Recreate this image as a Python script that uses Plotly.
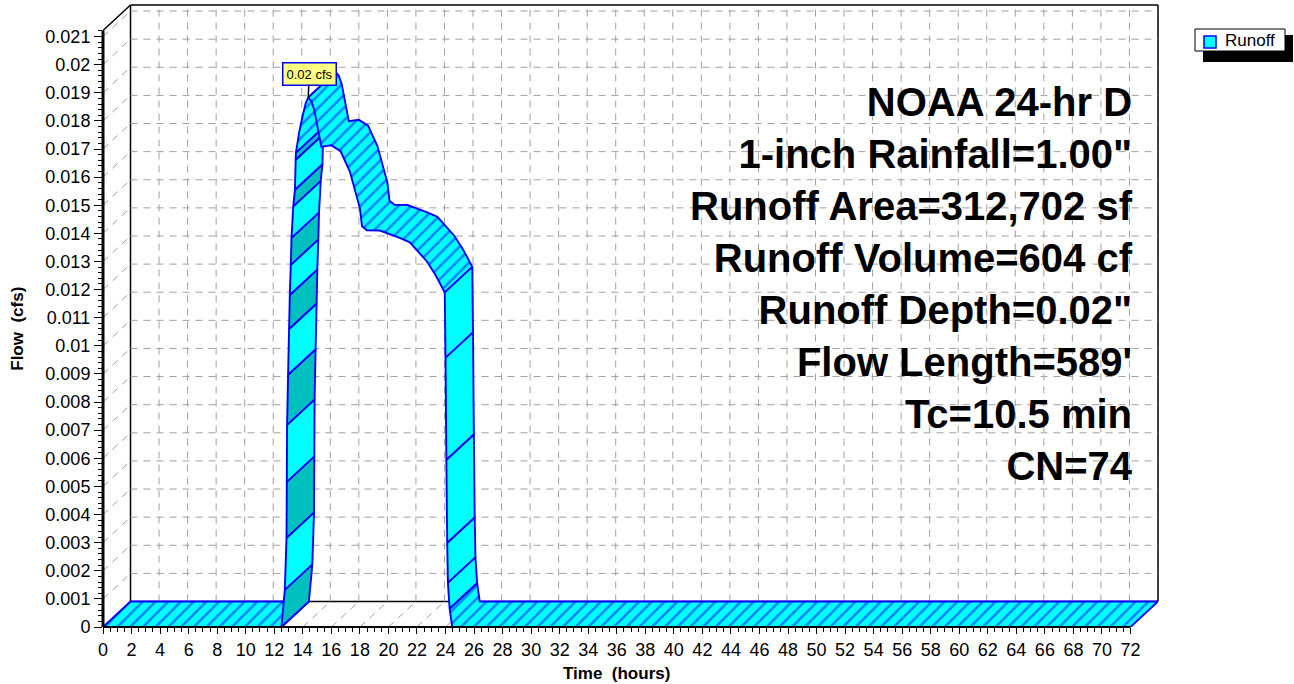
import plotly.graph_objects as go

# ---------------- data ----------------
time_hr = [0.0, 12.50, 12.74, 12.86, 12.88, 12.90, 12.97, 13.04, 13.09, 13.16, 13.21, 13.33, 13.45, 13.50, 13.52,
           13.75, 14.00, 14.20, 14.38, 14.60, 14.80, 15.05, 15.30, 16.00, 16.65, 17.30, 18.00, 18.15, 18.50, 19.40,
           20.75, 21.50, 22.20, 22.70, 23.30, 23.70, 23.95, 24.00, 24.06, 24.12, 24.17, 24.29, 24.47, 72.0]
flow_cfs = [0, 0, 0.00132, 0.00317, 0.00516, 0.00719, 0.00897, 0.01060, 0.01181, 0.01288, 0.01384, 0.01496, 0.01555, 0.01662, 0.01687,
            0.01760, 0.01820, 0.01862, 0.01883, 0.01870, 0.01840, 0.01770, 0.01708, 0.01713, 0.01692, 0.01620, 0.01490, 0.01425, 0.01411, 0.01410,
            0.01385, 0.01368, 0.01330, 0.01300, 0.01252, 0.01215, 0.01190, 0.00957, 0.00594, 0.00299, 0.00157, 0.00065, 0, 0]
series_name = "Runoff"
x_ticks = list(range(0, 73, 2))
y_ticks = [k / 1000 for k in range(0, 22)]
info_lines = ["NOAA 24-hr D", "1-inch Rainfall=1.00\"", "Runoff Area=312,702 sf", "Runoff Volume=604 cf",
              "Runoff Depth=0.02\"", "Flow Length=589'", "Tc=10.5 min", "CN=74"]
x_title = "Time\u00a0\u00a0(hours)"
y_title = "Flow\u00a0\u00a0(cfs)"

# ---------------- layout geometry ----------------
FIG_W, FIG_H = 1294, 684
M_L, M_T, M_B = 103, 5, 57
PLOT_W = 1055
PLOT_H = FIG_H - M_T - M_B
M_R = FIG_W - M_L - PLOT_W
T_MAX = 72.0
DEPTH_PX, DEPTH_PY = 27.5, 25.5          # pseudo-3D depth offset in pixels
PX_T = (PLOT_W - DEPTH_PX) / T_MAX
DT = DEPTH_PX / PX_T
F_TOP = 0.021215                          # top of the front flow axis
PX_Q = (PLOT_H - DEPTH_PY) / F_TOP
DQ = DEPTH_PY / PX_Q
X_RANGE = [0, T_MAX + DT]
Y_RANGE = [0, F_TOP + DQ]

CYAN = "#00FFFF"
TEAL = "#00BFBF"
BLUE = "#0000FF"
GRID = "#A0A0A0"
FONT = "Liberation Sans, Arial, sans-serif"


def xp(t):
    return (t - X_RANGE[0]) / (X_RANGE[1] - X_RANGE[0])


def yp(q):
    return (q - Y_RANGE[0]) / (Y_RANGE[1] - Y_RANGE[0])


fig = go.Figure()

# ---------------- dashed grid on the walls and floor ----------------
gx, gy = [], []
for t in x_ticks[1:-1]:                       # back wall verticals
    gx += [t + DT, t + DT, None]
    gy += [DQ, Y_RANGE[1], None]
for q in y_ticks[1:]:                         # back wall horizontals
    gx += [DT, T_MAX + DT, None]
    gy += [q + DQ, q + DQ, None]
for q in y_ticks[1:]:                         # left wall diagonals
    gx += [0, DT, None]
    gy += [q, q + DQ, None]
for t in x_ticks[1:-1]:                       # floor diagonals
    gx += [t, t + DT, None]
    gy += [0, DQ, None]
fig.add_trace(go.Scatter(x=gx, y=gy, mode="lines", line=dict(color=GRID, width=1, dash="7px,6px"),
                         hoverinfo="skip", showlegend=False))

# ---------------- 3D ribbon built from the hydrograph ----------------
segs = []
for i in range(len(time_hr) - 1):
    dxp = (time_hr[i + 1] - time_hr[i]) * PX_T
    dyp = (flow_cfs[i + 1] - flow_cfs[i]) * PX_Q
    steep = abs(dyp) > 9 * abs(dxp)
    top = dxp * DEPTH_PY - dyp * DEPTH_PX >= 0
    segs.append(("solid" if steep else "hatch", top))

groups = []
for i, (style, top) in enumerate(segs):
    if style == "hatch" and groups and groups[-1][0] == "hatch" and groups[-1][1] == top:
        groups[-1][3] = i
    else:
        groups.append([style, top, i, i])

under_count = 0
for style, top, i0, i1 in groups:
    ft = time_hr[i0:i1 + 2]
    fq = flow_cfs[i0:i1 + 2]
    px_ = ft + [t + DT for t in ft[::-1]] + [ft[0]]
    py_ = fq + [q + DQ for q in fq[::-1]] + [fq[0]]
    kw = dict(x=px_, y=py_, mode="lines", fill="toself", line=dict(color=BLUE, width=1.9),
              hoverinfo="skip", showlegend=False)
    if style == "hatch":
        kw["fillcolor"] = CYAN
        kw["fillpattern"] = dict(shape="/", fgcolor=BLUE, bgcolor=CYAN, size=9, solidity=0.27)
    else:
        if top:
            kw["fillcolor"] = CYAN
        else:
            kw["fillcolor"] = TEAL if under_count % 2 == 0 else CYAN
            under_count += 1
    fig.add_trace(go.Scatter(**kw))

# ---------------- frame lines ----------------
shapes = []


def seg_line(t0, q0, t1, q1, width, layer="above"):
    shapes.append(dict(type="line", xref="paper", yref="paper", x0=xp(t0), y0=yp(q0), x1=xp(t1), y1=yp(q1),
                       line=dict(color="black", width=width), layer=layer))


seg_line(DT, DQ, DT, Y_RANGE[1], 1.5, "below")
seg_line(DT, Y_RANGE[1], T_MAX + DT, Y_RANGE[1], 1.5, "below")
seg_line(T_MAX + DT, DQ, T_MAX + DT, Y_RANGE[1], 1.5, "below")
seg_line(DT, DQ, T_MAX + DT, DQ, 1.5, "below")
seg_line(0, F_TOP, DT, Y_RANGE[1], 1.5)
seg_line(0, 0, 0, F_TOP, 3)
seg_line(0, 0, T_MAX, 0, 2)

# ---------------- legend (boxed, with drop shadow) ----------------
def pxp(px):
    return (px - M_L) / PLOT_W


def pyp(py):
    return (FIG_H - M_B - py) / PLOT_H


shapes.append(dict(type="rect", xref="paper", yref="paper", x0=pxp(1203), x1=pxp(1293), y0=pyp(62), y1=pyp(35),
                   fillcolor="black", line=dict(width=0)))
shapes.append(dict(type="rect", xref="paper", yref="paper", x0=pxp(1195), x1=pxp(1285), y0=pyp(51), y1=pyp(29),
                   fillcolor="white", line=dict(color="black", width=1)))
shapes.append(dict(type="rect", xref="paper", yref="paper", x0=pxp(1204), x1=pxp(1216), y0=pyp(48), y1=pyp(36),
                   fillcolor=CYAN, line=dict(color=BLUE, width=1.5)))

annotations = [
    dict(text=series_name, xref="paper", yref="paper", x=pxp(1223), y=pyp(41), xanchor="left", yanchor="middle",
         showarrow=False, font=dict(family=FONT, size=17, color="black")),
]

# peak label
ipk = max(range(len(flow_cfs)), key=lambda k: flow_cfs[k])
annotations.append(dict(x=time_hr[ipk], y=flow_cfs[ipk], xref="x", yref="y",
                        text=f"{round(flow_cfs[ipk], 2):g} cfs", showarrow=True, arrowhead=0, arrowwidth=1.5,
                        arrowcolor="black", ax=1, ay=-24, bgcolor="#FFFF80", bordercolor=BLUE, borderwidth=1.5,
                        borderpad=3, font=dict(family=FONT, size=13, color="black")))

# info text block
annotations.append(dict(text="<br>".join(info_lines), xref="paper", yref="paper", x=pxp(1135), y=pyp(284),
                        xanchor="right", yanchor="middle", align="right", showarrow=False,
                        font=dict(family=FONT, size=40, color="black", weight="bold")))

# axis titles
annotations.append(dict(text=x_title, xref="paper", yref="paper", x=xp(T_MAX / 2), y=pyp(673),
                        xanchor="center", yanchor="middle", showarrow=False,
                        font=dict(family=FONT, size=17, color="black", weight="bold")))
annotations.append(dict(text=y_title, xref="paper", yref="paper", x=pxp(18), y=yp(F_TOP / 2),
                        xanchor="center", yanchor="middle", textangle=-90, showarrow=False,
                        font=dict(family=FONT, size=17, color="black", weight="bold")))


def fmt(v):
    s = f"{v:.3f}".rstrip("0").rstrip(".")
    return s if s else "0"


fig.update_layout(
    width=FIG_W, height=FIG_H,
    margin=dict(l=M_L, r=M_R, t=M_T, b=M_B, pad=0),
    paper_bgcolor="white", plot_bgcolor="white",
    showlegend=False,
    shapes=shapes, annotations=annotations,
    xaxis=dict(range=X_RANGE, tickvals=x_ticks, ticktext=[str(t) for t in x_ticks], ticks="outside", ticklen=6,
               tickcolor="black", showgrid=False, zeroline=False, showline=False,
               tickfont=dict(family=FONT, size=18, color="black"),
               minor=dict(tickvals=[k * 0.5 for k in range(0, 145)], ticks="outside", ticklen=4, tickcolor="black",
                          showgrid=False)),
    yaxis=dict(range=Y_RANGE, tickvals=y_ticks, ticktext=[fmt(v) for v in y_ticks], ticks="outside", ticklen=8,
               tickcolor="black", showgrid=False, zeroline=False, showline=False,
               tickfont=dict(family=FONT, size=18, color="black"),
               minor=dict(tickvals=[k * 0.0002 for k in range(0, 107)], ticks="outside", ticklen=4,
                          tickcolor="black", showgrid=False)),
)

fig.write_html("out.html", config={"displayModeBar": False},
               post_script="document.body.style.margin='0';document.body.style.padding='0';"
                           "document.body.style.overflow='hidden';")
